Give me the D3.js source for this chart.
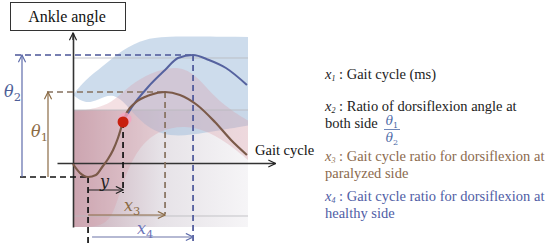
<!DOCTYPE html>
<html>
<head>
<meta charset="utf-8">
<script src="https://cdn.jsdelivr.net/npm/d3@7"></script>
<style>
  body { margin: 0; background: #fff; }
</style>
</head>
<body>
<script>
// gait cycle (%) / ankle angle (deg)
var pareticCurve = [[0, -0.2], [4, -2.0], [8.6, -2.8], [13.1, -2.4], [17.1, -0.6], [20, 0.8], [22.9, 2.6], [25.7, 5.0],
  [28.6, 8.2], [30.9, 10.2], [35.4, 12.0], [44, 13.6], [52.6, 14.2], [61.1, 13.6], [70.9, 11.6],
  [81.1, 8.2], [90.3, 4.6], [99.4, 1.6]]
var healthyCurve = [[28.6, 8.2], [33.7, 11.2], [42.9, 15.2], [52.6, 18.6], [60, 21], [68.6, 21.6], [77.7, 20.6],
  [87.4, 19], [99.4, 15.6]]

// spread bands
var healthyTop = [[0, 13.6], [6.9, 16.6], [16.6, 19.2], [28, 22.6], [41.1, 25], [58.3, 25.4], [100, 25.2]]
var healthyBottom = [[0, 13.6], [6.9, 11.8], [14.3, 12.6], [22.3, 14], [30, 12], [40, 7.5], [55, 5], [75, 6], [100, 7.5]]
var pareticTop = [[0, 10.2], [15.4, 11], [24, 12.6], [32.6, 15.6], [44, 18], [58.3, 19.5], [69.7, 18], [81.1, 13], [92.6, 10], [100, 8.5]]
var pareticBottom = [[0, -12.8], [18.3, -12.8], [24, -9.4], [29.7, -2.4], [38.3, 3.6], [49.7, 6.6], [64, 7.6], [78.3, 6.2], [89.7, 3.6], [100, 0.6]]
var lowerShade = [10.6, -12.8]
var gridAngles = [21, 10.6, -10.6]

// key points
var minPoint = [8.6, -2.8]
var dotPoint = [28.6, 8.2]
var pareticPeak = [52.6, 14.2]
var healthyPeak = [68.6, 21.6]

var noteKeys = ["1", "2", null, "3", null, "4", null]
var noteTexts = [" : Gait cycle (ms)", " : Ratio of dorsiflexion angle at", "both side",
  " : Gait cycle ratio for dorsiflexion at", "paralyzed side",
  " : Gait cycle ratio for dorsiflexion at", "healthy side"]

var W = 550, H = 245
var blue = "#55629f", brown = "#7b5a49", dark = "#222"
var serif = "'Liberation Serif', 'Times New Roman', serif"
var mathFont = "'DejaVu Serif', serif"

var svg = d3.select("body").append("svg").attr("width", W).attr("height", H)
  .style("display", "block")

var x = d3.scaleLinear().domain([0, 100]).range([73, 248])
var y = d3.scaleLinear().domain([0, 20]).range([163, 63])

var defs = svg.append("defs")
function marker(id, color) {
  defs.append("marker").attr("id", id)
    .attr("markerUnits", "userSpaceOnUse")
    .attr("viewBox", "0 0 10 10").attr("refX", 9).attr("refY", 5)
    .attr("markerWidth", 9).attr("markerHeight", 9).attr("orient", "auto")
    .append("path").attr("d", "M1,1 L9,5 L1,9")
    .attr("fill", "none").attr("stroke", color).attr("stroke-width", 1.3)
}
marker("arK", "#222"); marker("arB", "#5e6cab"); marker("arN", "#8b6b45")

var grad = defs.append("linearGradient").attr("id", "shade")
grad.append("stop").attr("offset", "0").attr("stop-color", "#c6aab6")
grad.append("stop").attr("offset", "0.22").attr("stop-color", "#d5c3cc")
grad.append("stop").attr("offset", "0.5").attr("stop-color", "#e6e2e7")
grad.append("stop").attr("offset", "1").attr("stop-color", "#f6f5f7")

// shaded background pieces
svg.append("rect")
  .attr("x", x(0)).attr("y", y(lowerShade[0]))
  .attr("width", x(100) - x(0)).attr("height", y(lowerShade[1]) - y(lowerShade[0]))
  .attr("fill", "url(#shade)")

var edge = d3.line().x(d => x(d[0])).y(d => y(d[1])).curve(d3.curveBasis)
function band(top, bottom) {
  return edge(top) + "L" + edge(bottom.slice().reverse()).slice(1) + "Z"
}
svg.append("path").attr("d", band(healthyTop, healthyBottom))
  .attr("fill", "#a9c2de").attr("opacity", 0.58)
svg.append("path").attr("d", band(pareticTop, pareticBottom))
  .attr("fill", "#dc97a2").attr("opacity", 0.3)

svg.selectAll(".grid").data(gridAngles).enter().append("line")
  .attr("x1", x(0)).attr("x2", x(100))
  .attr("y1", d => y(d)).attr("y2", d => y(d))
  .attr("stroke", "#b9b9bd").attr("stroke-width", 1).attr("opacity", 0.8)

// axes (no ticks, arrow ends)
var xAxis = svg.append("g").attr("transform", "translate(0," + y(0) + ")")
  .call(d3.axisBottom(x.copy().domain([-9.1, 115.4]).range([57, 275])).tickValues([]).tickSizeOuter(0))
xAxis.select(".domain").attr("stroke", "#333").attr("stroke-width", 1.4).attr("marker-end", "url(#arK)")
var yAxis = svg.append("g").attr("transform", "translate(" + x(0) + ",0)")
  .call(d3.axisLeft(y.copy().domain([-12.8, 26]).range([227, 33])).tickValues([]).tickSizeOuter(0))
yAxis.select(".domain").attr("stroke", "#333").attr("stroke-width", 1.6)
yAxis.append("line").attr("x1", 0).attr("x2", 0).attr("y1", 40).attr("y2", 33)
  .attr("stroke", "#333").attr("stroke-width", 1.4).attr("marker-end", "url(#arK)")

// dashed guides
function dash(x1, y1, x2, y2, color) {
  svg.append("line").attr("x1", x1).attr("y1", y1).attr("x2", x2).attr("y2", y2)
    .attr("stroke", color).attr("stroke-width", 1.7).attr("stroke-dasharray", "6,4")
}
dash(15, y(healthyPeak[1]), x(healthyPeak[0]), y(healthyPeak[1]), "#4b5598")
dash(x(healthyPeak[0]), y(healthyPeak[1]), x(healthyPeak[0]), 241, "#4b5598")
dash(47, y(pareticPeak[1]), x(pareticPeak[0]), y(pareticPeak[1]), "#85705e")
dash(x(pareticPeak[0]), y(pareticPeak[1]), x(pareticPeak[0]), 214, "#85705e")
dash(20, y(minPoint[1]), x(minPoint[0]), y(minPoint[1]), "#111")
dash(x(minPoint[0]), y(minPoint[1]), x(minPoint[0]), 245, "#111")
dash(x(dotPoint[0]), y(dotPoint[1]), x(dotPoint[0]), 193, "#111")

// curves
var curve = d3.line().x(d => x(d[0])).y(d => y(d[1])).curve(d3.curveMonotoneX)
svg.append("path").attr("d", curve(healthyCurve)).attr("fill", "none")
  .attr("stroke", blue).attr("stroke-width", 2)
svg.append("path").attr("d", curve(pareticCurve)).attr("fill", "none")
  .attr("stroke", brown).attr("stroke-width", 2.2)

svg.append("circle").attr("cx", x(dotPoint[0]) + 2).attr("cy", y(dotPoint[1]) - 3).attr("r", 6.5)
  .attr("fill", "#f5a3bf").attr("opacity", 0.8)
svg.append("circle").attr("cx", x(dotPoint[0])).attr("cy", y(dotPoint[1])).attr("r", 5.5)
  .attr("fill", "#c8200f")

// measurement arrows
function arrow(x1, y1, x2, y2, color, id) {
  svg.append("line").attr("x1", x1).attr("y1", y1).attr("x2", x2).attr("y2", y2)
    .attr("stroke", color).attr("stroke-width", 1.2).attr("marker-end", "url(#" + id + ")")
}
arrow(22, y(minPoint[1]), 22, y(healthyPeak[1]), "#5e6cab", "arB")
arrow(48, y(minPoint[1]), 48, y(pareticPeak[1]), "#8b6b45", "arN")
arrow(x(minPoint[0]), 190, x(dotPoint[0]), 190, "#222", "arK")
arrow(x(minPoint[0]), 215, x(pareticPeak[0]), 215, "#8b6b45", "arN")
arrow(x(minPoint[0]) + 4, 237, x(healthyPeak[0]), 237, "#6d74a8", "arB")

function mathLabel(px, py, base, sub, color, size) {
  var t = svg.append("text").attr("x", px).attr("y", py).attr("fill", color)
    .attr("font-family", mathFont).attr("font-style", "italic").attr("font-size", size)
  t.append("tspan").text(base)
  if (sub) t.append("tspan").attr("dy", 4).attr("font-style", "normal").attr("font-size", size * 0.72).text(sub)
}
mathLabel(4, 97, "θ", "2", "#4e5f98", 16)
mathLabel(31, 137, "θ", "1", "#8b6b45", 16)
mathLabel(100, 187, "y", null, "#222", 16)
mathLabel(124, 211, "x", "3", "#8b6b45", 16)
mathLabel(137, 234, "x", "4", "#6d74b8", 16)

// title box
svg.append("rect").attr("x", 10.5).attr("y", 2.5).attr("width", 115).attr("height", 28)
  .attr("fill", "#fff").attr("stroke", "#333").attr("stroke-width", 1)
svg.append("text").attr("x", 67).attr("y", 22).attr("text-anchor", "middle")
  .attr("font-family", serif).attr("font-size", 16).attr("fill", "#111").text("Ankle angle")

svg.append("text").attr("x", 255).attr("y", 155)
  .attr("font-family", serif).attr("font-size", 14.5).attr("fill", "#111").text("Gait cycle")

// notes on the right
var noteY = [79, 111, 128, 161, 178, 201, 218]
var noteColor = [dark, dark, dark, "#8b6a4e", "#8b6a4e", "#4f5da5", "#4f5da5"]
noteTexts.forEach(function (txt, i) {
  var t = svg.append("text").attr("x", 325).attr("y", noteY[i])
    .attr("font-family", serif).attr("font-size", 14.5).attr("fill", noteColor[i])
  if (noteKeys[i]) {
    t.append("tspan").attr("font-style", "italic").text("x")
    t.append("tspan").attr("dy", 2).attr("font-style", "italic").attr("font-size", 8).text(noteKeys[i])
    t.append("tspan").attr("dy", -2).text(txt)
  } else {
    t.text(txt)
  }
})
// fraction theta1 / theta2
var fx = 392
function fracPart(py, sub) {
  svg.append("text").attr("x", fx).attr("y", py).attr("text-anchor", "middle").attr("fill", "#4a68a6")
    .attr("font-family", mathFont).attr("font-style", "italic").attr("font-size", 12)
    .call(t => { t.append("tspan").text("θ"); t.append("tspan").attr("dy", 3).attr("font-style", "normal").attr("font-size", 8).text(sub) })
}
fracPart(125, "1")
fracPart(142, "2")
svg.append("line").attr("x1", fx - 8).attr("x2", fx + 8).attr("y1", 129.5).attr("y2", 129.5)
  .attr("stroke", "#4a68a6").attr("stroke-width", 0.8)
</script>
</body>
</html>
